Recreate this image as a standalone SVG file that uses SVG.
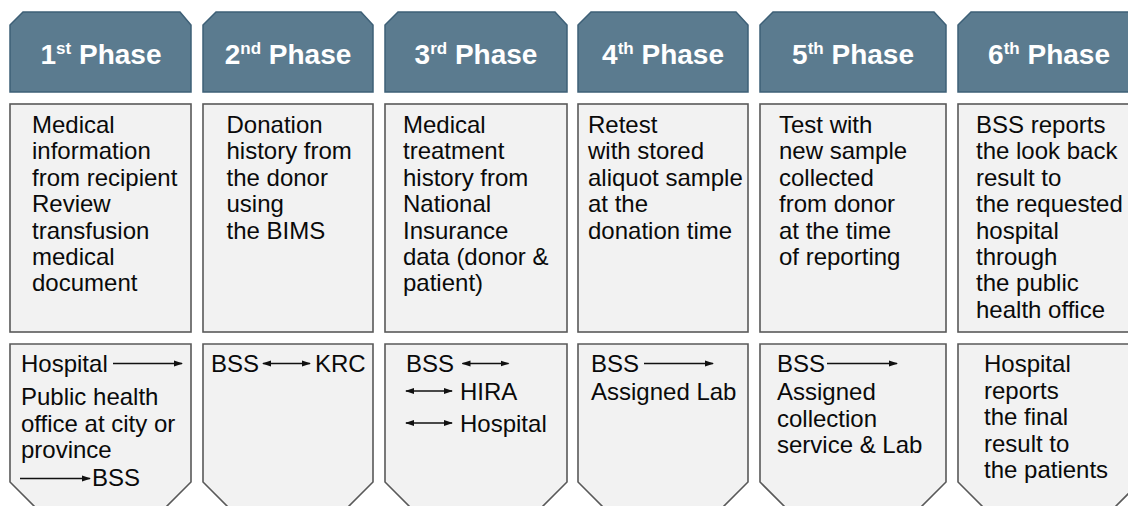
<svg xmlns="http://www.w3.org/2000/svg" width="1128" height="506" viewBox="0 0 1128 506">
<style>
.hdr{fill:#5b7b8f;stroke:#3e6077;stroke-width:1.5}
.box{fill:#f2f2f2;stroke:#595959;stroke-width:1.6}
.ht{font-family:"Liberation Sans",Arial,sans-serif;font-weight:bold;font-size:28px;fill:#ffffff;text-anchor:middle}
.sup{font-size:17px}
.t{font-family:"Liberation Sans",Arial,sans-serif;font-size:24px;fill:#0a0a0a}
.ar{stroke:#111111;stroke-width:1.4;fill:none}
</style>
<defs>
<marker id="ah" markerWidth="9" markerHeight="8" refX="8" refY="4" orient="auto" markerUnits="userSpaceOnUse">
<path d="M0,1 L9,4 L0,7 Z" fill="#111111"/>
</marker>
<marker id="at" markerWidth="9" markerHeight="8" refX="1" refY="4" orient="auto" markerUnits="userSpaceOnUse">
<path d="M9,1 L0,4 L9,7 Z" fill="#111111"/>
</marker>
</defs>
<rect width="1128" height="506" fill="#ffffff"/>

<!-- Headers -->
<g id="header1"><path class="hdr" d="M10,25 L23,12 H180 L191,25 V92 H10 Z"/><text class="ht" x="101" y="64">1<tspan class="sup" dy="-10">st</tspan><tspan dy="10"> Phase</tspan></text></g>
<g id="header2"><path class="hdr" d="M203,25 L216,12 H361 L373,25 V92 H203 Z"/><text class="ht" x="288" y="64">2<tspan class="sup" dy="-10">nd</tspan><tspan dy="10"> Phase</tspan></text></g>
<g id="header3"><path class="hdr" d="M385,25 L398,12 H555 L567,25 V92 H385 Z"/><text class="ht" x="476" y="64">3<tspan class="sup" dy="-10">rd</tspan><tspan dy="10"> Phase</tspan></text></g>
<g id="header4"><path class="hdr" d="M578,25 L591,12 H736 L748,25 V92 H578 Z"/><text class="ht" x="663" y="64">4<tspan class="sup" dy="-10">th</tspan><tspan dy="10"> Phase</tspan></text></g>
<g id="header5"><path class="hdr" d="M760,25 L773,12 H934 L946,25 V92 H760 Z"/><text class="ht" x="853" y="64">5<tspan class="sup" dy="-10">th</tspan><tspan dy="10"> Phase</tspan></text></g>
<g id="header6"><path class="hdr" d="M958,25 L971,12 H1128 L1140,25 V92 H958 Z"/><text class="ht" x="1049" y="64">6<tspan class="sup" dy="-10">th</tspan><tspan dy="10"> Phase</tspan></text></g>

<!-- Middle boxes -->
<g id="desc1"><rect class="box" x="10" y="104" width="181" height="228"/>
<text class="t" x="32" y="133"><tspan x="32">Medical</tspan><tspan x="32" dy="26.4">information</tspan><tspan x="32" dy="26.4">from recipient</tspan><tspan x="32" dy="26.4">Review</tspan><tspan x="32" dy="26.4">transfusion</tspan><tspan x="32" dy="26.4">medical</tspan><tspan x="32" dy="26.4">document</tspan></text></g>
<g id="desc2"><rect class="box" x="203" y="104" width="170" height="228"/>
<text class="t" x="226.5" y="133"><tspan x="226.5">Donation</tspan><tspan x="226.5" dy="26.4">history from</tspan><tspan x="226.5" dy="26.4">the donor</tspan><tspan x="226.5" dy="26.4">using</tspan><tspan x="226.5" dy="26.4">the BIMS</tspan></text></g>
<g id="desc3"><rect class="box" x="385" y="104" width="182" height="228"/>
<text class="t" x="403" y="133"><tspan x="403">Medical</tspan><tspan x="403" dy="26.4">treatment</tspan><tspan x="403" dy="26.4">history from</tspan><tspan x="403" dy="26.4">National</tspan><tspan x="403" dy="26.4">Insurance</tspan><tspan x="403" dy="26.4">data (donor &amp;</tspan><tspan x="403" dy="26.4">patient)</tspan></text></g>
<g id="desc4"><rect class="box" x="578" y="104" width="170" height="228"/>
<text class="t" x="588" y="133"><tspan x="588">Retest</tspan><tspan x="588" dy="26.4">with stored</tspan><tspan x="588" dy="26.4">aliquot sample</tspan><tspan x="588" dy="26.4">at the</tspan><tspan x="588" dy="26.4">donation time</tspan></text></g>
<g id="desc5"><rect class="box" x="760" y="104" width="186" height="228"/>
<text class="t" x="779" y="133"><tspan x="779">Test with</tspan><tspan x="779" dy="26.4">new sample</tspan><tspan x="779" dy="26.4">collected</tspan><tspan x="779" dy="26.4">from donor</tspan><tspan x="779" dy="26.4">at the time</tspan><tspan x="779" dy="26.4">of reporting</tspan></text></g>
<g id="desc6"><rect class="box" x="958" y="104" width="182" height="228"/>
<text class="t" x="976" y="133"><tspan x="976">BSS reports</tspan><tspan x="976" dy="26.4">the look back</tspan><tspan x="976" dy="26.4">result to</tspan><tspan x="976" dy="26.4">the requested</tspan><tspan x="976" dy="26.4">hospital</tspan><tspan x="976" dy="26.4">through</tspan><tspan x="976" dy="26.4">the public</tspan><tspan x="976" dy="26.4">health office</tspan></text></g>

<!-- Bottom boxes -->
<g id="flow1"><path class="box" d="M10,344 H191 V482 L100.5,572.5 L10,482 Z"/>
<text class="t" x="21" y="372">Hospital</text>
<text class="t"><tspan x="21" y="405">Public health</tspan><tspan x="21" y="431.5">office at city or</tspan><tspan x="21" y="458">province</tspan></text>
<text class="t" x="92" y="485.5">BSS</text></g>
<g id="flow2"><path class="box" d="M203,344 H373 V482 L288,567 L203,482 Z"/>
<text class="t" x="211" y="372">BSS</text><text class="t" x="315" y="372">KRC</text></g>
<g id="flow3"><path class="box" d="M385,344 H567 V482 L476,573 L385,482 Z"/>
<text class="t" x="406" y="372">BSS</text><text class="t" x="460" y="400">HIRA</text><text class="t" x="460" y="432">Hospital</text></g>
<g id="flow4"><path class="box" d="M578,344 H748 V482 L663,567 L578,482 Z"/>
<text class="t" x="591" y="372">BSS</text><text class="t" x="591" y="400">Assigned Lab</text></g>
<g id="flow5"><path class="box" d="M760,344 H946 V482 L853,575 L760,482 Z"/>
<text class="t"><tspan x="777" y="372">BSS</tspan><tspan x="777" y="400">Assigned</tspan><tspan x="777" y="426.5">collection</tspan><tspan x="777" y="453">service &amp; Lab</tspan></text></g>
<g id="flow6"><path class="box" d="M958,344 H1140 V482 L1049,573 L958,482 Z"/>
<text class="t"><tspan x="984" y="372">Hospital</tspan><tspan x="984" y="398.5">reports</tspan><tspan x="984" y="425">the final</tspan><tspan x="984" y="451.5">result to</tspan><tspan x="984" y="478">the patients</tspan></text></g>

<!-- Connectors -->
<g id="connectors">
<line class="ar" x1="113" y1="363.5" x2="182" y2="363.5" marker-end="url(#ah)"/>
<line class="ar" x1="20" y1="478.5" x2="90" y2="478.5" marker-end="url(#ah)"/>
<line class="ar" x1="263" y1="363.5" x2="310" y2="363.5" marker-start="url(#at)" marker-end="url(#ah)"/>
<line class="ar" x1="462.5" y1="363.5" x2="508.5" y2="363.5" marker-start="url(#at)" marker-end="url(#ah)"/>
<line class="ar" x1="406" y1="391" x2="452" y2="391" marker-start="url(#at)" marker-end="url(#ah)"/>
<line class="ar" x1="406" y1="423" x2="452" y2="423" marker-start="url(#at)" marker-end="url(#ah)"/>
<line class="ar" x1="644" y1="363.5" x2="713" y2="363.5" marker-end="url(#ah)"/>
<line class="ar" x1="827" y1="363.5" x2="897" y2="363.5" marker-end="url(#ah)"/>
</g>
</svg>
